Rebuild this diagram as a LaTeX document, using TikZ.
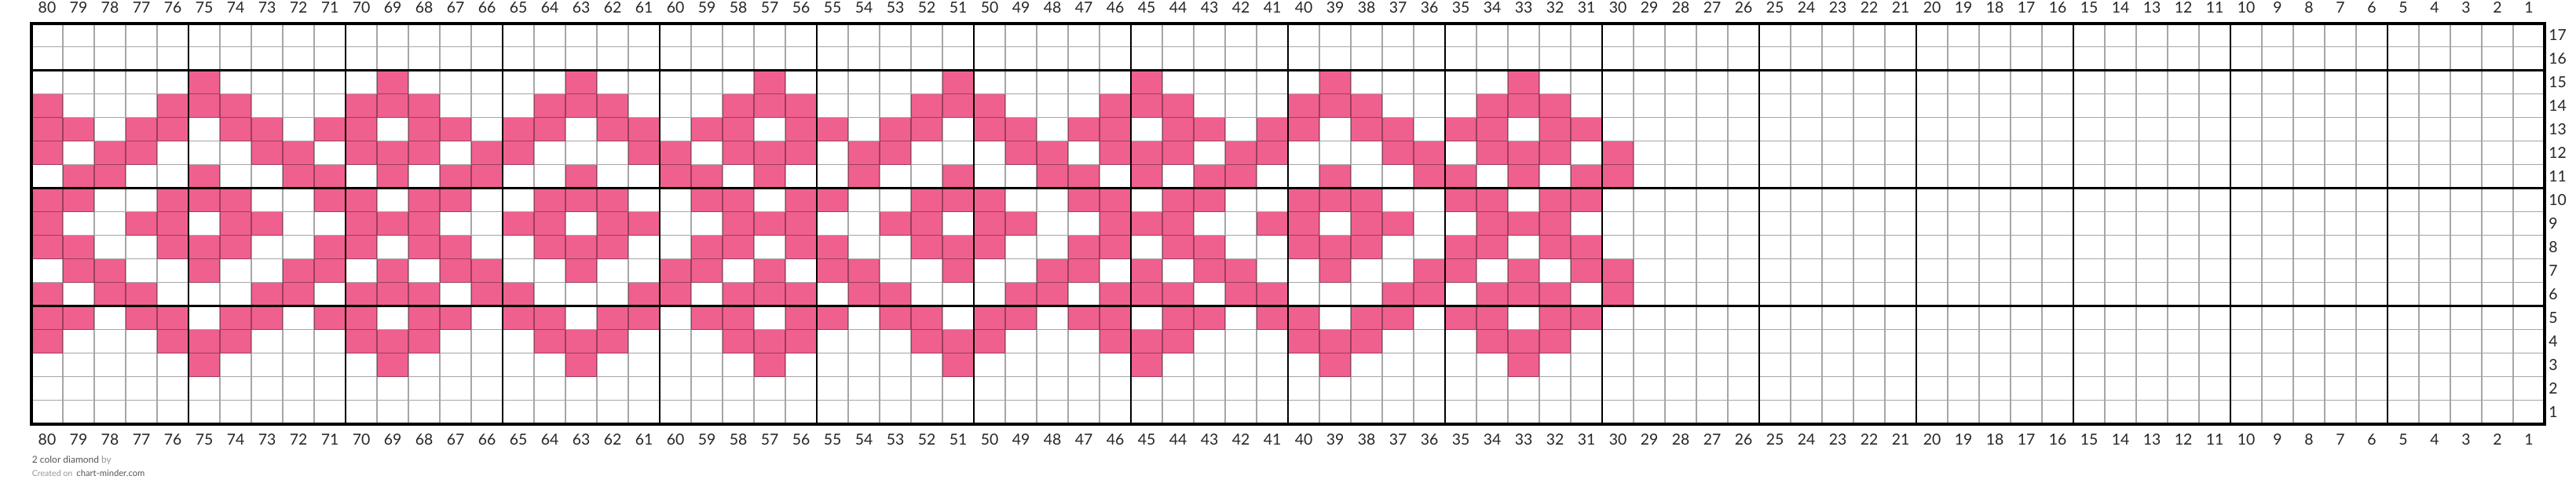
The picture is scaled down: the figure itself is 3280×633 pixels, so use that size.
\documentclass[tikz,border=0pt]{standalone}
\usepackage{fontspec}
\setmainfont{Lato}
\definecolor{knitpink}{RGB}{239,96,142}
\definecolor{capdark}{RGB}{85,85,85}
\definecolor{caplight}{RGB}{150,150,150}
\begin{document}
\begin{tikzpicture}[x=0.5pt,y=-0.5pt,
  cellfill/.style={fill=knitpink},
  thinline/.style={draw=black,draw opacity=0.35,line width=0.7pt},
  heavyline/.style={draw=black,line width=1.3pt},
  outerborder/.style={draw=black,line width=2pt},
  collab/.style={font=\fontsize{9.7}{11}\selectfont,text=black!85,anchor=base,inner sep=0pt},
  rowlab/.style={font=\fontsize{9.7}{11}\selectfont,text=black!85,anchor=base west,inner sep=0pt},
  caption/.style={anchor=base west,inner sep=0pt}]
\useasboundingbox (0,0) rectangle (3280,633);
\fill[white] (0,0) rectangle (3280,633);
% pink cells: row / list of columns
\foreach \r/\cl in {
 15/{75,69,63,57,51,45,39,33},
 14/{80,76,75,74,70,69,68,64,63,62,58,57,56,52,51,50,46,45,44,40,39,38,34,33,32},
 13/{80,79,77,76,74,73,71,70,68,67,65,64,62,61,59,58,56,55,53,52,50,49,47,46,44,43,41,40,38,37,35,34,32,31},
 12/{80,78,77,73,72,70,69,68,66,65,61,60,58,57,56,54,53,49,48,46,45,44,42,41,37,36,34,33,32,30},
 11/{79,78,75,72,71,69,67,66,63,60,59,57,54,51,48,47,45,43,42,39,36,35,33,31,30},
 10/{80,79,76,75,74,71,70,68,67,64,63,62,59,58,56,55,52,51,50,47,46,44,43,40,39,38,35,34,32,31},
 9/{80,77,76,74,73,70,69,68,65,64,62,61,58,57,56,53,52,50,49,46,45,44,41,40,38,37,34,33,32},
 8/{80,79,76,75,74,71,70,68,67,64,63,62,59,58,56,55,52,51,50,47,46,44,43,40,39,38,35,34,32,31},
 7/{79,78,75,72,71,69,67,66,63,60,59,57,55,54,51,48,47,45,43,42,39,36,35,33,31,30},
 6/{80,78,77,73,72,70,69,68,66,65,61,60,58,57,56,54,53,49,48,46,45,44,42,41,37,36,34,33,32,30},
 5/{80,79,77,76,74,73,71,70,68,67,65,64,62,61,59,58,56,55,53,52,50,49,47,46,44,43,41,40,38,37,35,34,32,31},
 4/{80,76,75,74,70,69,68,64,63,62,58,57,56,52,51,50,46,45,44,40,39,38,34,33,32},
 3/{75,69,63,57,51,45,39,33}}{
  \foreach \c in \cl {
    \fill[cellfill] ({3240-40*\c},{539.5-30*\r}) rectangle ++(40,30);
  }
}
% thin grid
\draw[thinline]
  \foreach \i in {1,...,79} { ({40+40*\i},29.5) -- ({40+40*\i},539.5) }
  \foreach \j in {1,...,16} { (40,{29.5+30*\j}) -- (3240,{29.5+30*\j}) };
% heavy lines every 5
\draw[heavyline]
  \foreach \k in {0,...,14} { ({240+200*\k},29.5) -- ({240+200*\k},539.5) }
  \foreach \yy in {89.5,239.5,389.5} { (40,\yy) -- (3240,\yy) };
\draw[outerborder] (40,29.5) rectangle (3240,539.5);
% column numbers
\foreach \c in {1,...,80} {
  \node[collab] (top\c) at ({3260-40*\c},16.5) {\c};
  \node[collab] (bot\c) at ({3260-40*\c},566) {\c};
}
% row numbers
\foreach \r in {1,...,17} {
  \node[rowlab] (row\r) at (3245,{561.5-30*\r}) {\r};
}
% caption
\node[caption] (cap1) at (40.5,589) {\fontsize{6}{7}\selectfont\textcolor{capdark}{2 color diamond} \textcolor{caplight}{by}};
\node[caption] (cap2) at (40.5,606.5) {\textcolor{caplight}{\fontsize{5.3}{6}\selectfont Created on} \textcolor{capdark}{\fontsize{5.6}{6}\selectfont chart-minder.com}};
\end{tikzpicture}
\end{document}
